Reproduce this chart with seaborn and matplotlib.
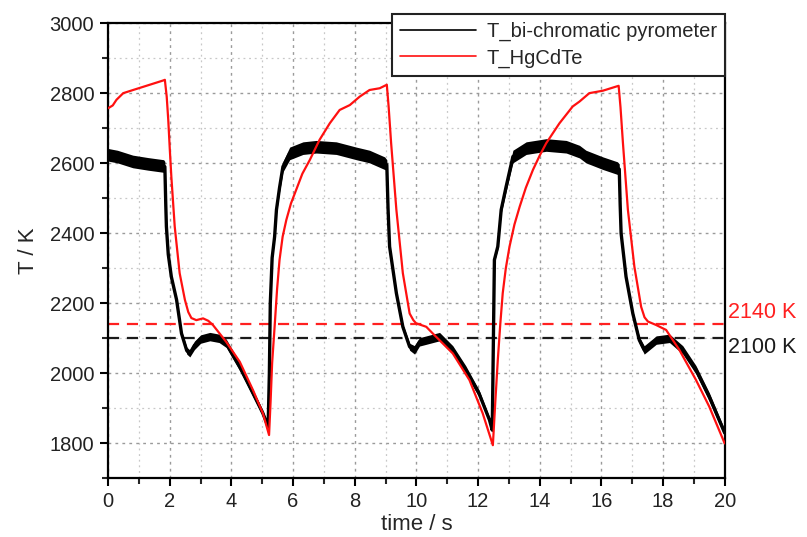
import matplotlib
matplotlib.use("Agg")
import matplotlib.pyplot as plt
from matplotlib.ticker import MultipleLocator
import numpy as np
import pandas as pd
import seaborn as sns

# bi-chromatic pyrometer (black): time, temperature, half-width of the noisy band
pyro_t = [0.0, 0.3, 0.8, 1.3, 1.8, 1.84,
          1.87, 1.89, 1.95, 2.05, 2.22, 2.38, 2.55, 2.65, 2.8, 3.0, 3.3, 3.6, 3.83, 4.27, 4.7, 5.02, 5.19,
          5.23, 5.26, 5.32, 5.4, 5.46, 5.56, 5.67, 5.89, 6.32, 6.75, 7.4, 8.05, 8.48, 8.97, 9.04,
          9.08, 9.13, 9.35, 9.56, 9.78, 9.94, 10.1, 10.32, 10.75, 11.18, 11.6, 12.03, 12.37, 12.46,
          12.53, 12.64, 12.75, 12.91, 13.13, 13.56, 14.21, 14.86, 15.29, 15.5, 16.05, 16.52, 16.58,
          16.61, 16.64, 16.8, 17.02, 17.23, 17.39, 17.78, 18.21, 18.64, 19.07, 19.5, 20.0]
pyro_T = [2624, 2619, 2605, 2598, 2592, 2590,
          2480, 2419, 2340, 2276, 2210, 2114, 2065, 2057, 2080, 2098, 2105, 2100, 2086, 2019, 1943, 1886, 1848,
          2000, 2200, 2330, 2390, 2467, 2530, 2590, 2628, 2643, 2647, 2643, 2628, 2619, 2600, 2595,
          2470, 2362, 2229, 2133, 2076, 2067, 2090, 2095, 2105, 2067, 2010, 1943, 1867, 1838,
          2324, 2362, 2467, 2533, 2619, 2643, 2652, 2647, 2633, 2619, 2600, 2586, 2583,
          2480, 2400, 2276, 2171, 2095, 2067, 2095, 2100, 2067, 2010, 1933, 1830]
pyro_noise = [18, 18, 18, 18, 18, 15,
              6, 6, 6, 6, 6, 8, 10, 10, 12, 12, 12, 12, 12, 12, 10, 8, 6,
              4, 4, 6, 8, 10, 12, 15, 18, 18, 18, 18, 18, 18, 18, 15,
              6, 6, 6, 8, 10, 12, 12, 12, 12, 12, 12, 10, 8, 6,
              6, 8, 10, 14, 18, 18, 18, 18, 18, 18, 18, 18, 15,
              6, 6, 6, 8, 10, 12, 12, 12, 12, 12, 12, 10]

# HgCdTe (red)
hg_t = [0.0, 0.15, 0.27, 0.49, 0.81, 1.35, 1.78, 1.84,
        1.9, 1.95, 2.0, 2.05, 2.16, 2.32, 2.49, 2.6, 2.7, 2.86, 3.08, 3.25, 3.4, 3.83, 4.27, 4.7, 5.02, 5.22,
        5.27, 5.32, 5.4, 5.48, 5.56, 5.66, 5.78, 5.93, 6.1, 6.3, 6.54, 6.86, 7.19, 7.51, 7.84, 8.16, 8.48, 8.81, 9.04,
        9.1, 9.18, 9.35, 9.56, 9.78, 9.9, 9.99, 10.32, 10.53, 11.18, 11.72, 12.15, 12.48,
        12.56, 12.64, 12.72, 12.8, 12.9, 13.02, 13.18, 13.35, 13.55, 13.78, 14.0, 14.21, 14.64, 15.07, 15.29,
        15.61, 16.05, 16.56,
        16.62, 16.7, 16.86, 17.07, 17.29, 17.4, 17.51, 17.78, 18.1, 18.53, 19.07, 19.5, 20.0]
hg_T = [2757, 2765, 2781, 2800, 2809, 2824, 2836, 2838,
        2790, 2724, 2640, 2562, 2419, 2286, 2210, 2175, 2158, 2152, 2157, 2150, 2138, 2090, 2033, 1952, 1886, 1824,
        1920, 2030, 2133, 2240, 2324, 2390, 2438, 2485, 2524, 2570, 2609, 2667, 2714, 2752, 2766, 2790, 2809, 2814, 2824,
        2760, 2657, 2467, 2286, 2171, 2152, 2143, 2133, 2114, 2057, 1981, 1886, 1795,
        1920, 2038, 2140, 2229, 2300, 2362, 2425, 2476, 2530, 2581, 2622, 2657, 2714, 2762, 2776,
        2800, 2807, 2821,
        2760, 2657, 2467, 2305, 2190, 2160, 2148, 2138, 2124, 2067, 1981, 1905, 1800]

levels = [2140, 2100]
level_colors = ["#ff2020", "#1a1a1a"]
level_labels = ["2140 K", "2100 K"]

sns.set_style("ticks")
plt.rcParams["font.family"] = ["Liberation Sans", "DejaVu Sans"]

fig = plt.figure(figsize=(8.07, 5.37), dpi=100)
ax = fig.add_axes([0.134, 0.109, 0.764, 0.848])

for lv, c in zip(levels, level_colors):
    ax.axhline(lv, color=c, lw=1.6, ls=(0, (5, 3.5)), zorder=1)

pyro = pd.DataFrame({"t": pyro_t, "T": pyro_T})
hg = pd.DataFrame({"t": hg_t, "T": hg_T})

lo = np.array(pyro_T) - np.array(pyro_noise)
hi = np.array(pyro_T) + np.array(pyro_noise)
ax.fill_between(pyro_t, lo, hi, color="black", lw=0, zorder=2)
sns.lineplot(data=pyro, x="t", y="T", color="black", lw=2.4, estimator=None,
             ax=ax, label="T_bi-chromatic pyrometer", zorder=3)
sns.lineplot(data=hg, x="t", y="T", color="#ff1010", lw=1.6, estimator=None,
             ax=ax, label="T_HgCdTe", zorder=4)

ax.set_xlim(0, 20)
ax.set_ylim(1700, 3000)
ax.xaxis.set_major_locator(MultipleLocator(2))
ax.xaxis.set_minor_locator(MultipleLocator(1))
ax.yaxis.set_major_locator(MultipleLocator(200))
ax.yaxis.set_minor_locator(MultipleLocator(100))

ax.grid(which="major", color="#9a9a9a", ls=(0, (2, 3)), lw=1.0)
ax.grid(which="minor", color="#c8c8c8", ls=(0, (1.5, 3)), lw=0.9)
ax.set_axisbelow(True)

for s in ax.spines.values():
    s.set_linewidth(1.6)
    s.set_color("black")
ax.tick_params(which="major", direction="out", length=6, width=1.5, labelsize=14.5,
               colors="black", pad=4)
ax.tick_params(which="minor", direction="out", length=4, width=1.5)
for lab in ax.get_xticklabels() + ax.get_yticklabels():
    lab.set_color("#222222")

ax.set_xlabel("time / s", fontsize=16, labelpad=2)
ax.set_ylabel("T / K", fontsize=16, labelpad=8)

for lv, c, txt, dy in zip(levels, level_colors, level_labels, [35, -25]):
    ax.text(1.005, lv + dy, txt, color=c, fontsize=15.5, va="center", ha="left",
            transform=ax.get_yaxis_transform(), clip_on=False)

leg = ax.legend(loc="upper right", bbox_to_anchor=(1.0, 1.02), fontsize=14.5,
                frameon=True, fancybox=False, handlelength=3.8, borderpad=0.4,
                labelspacing=0.35, borderaxespad=0, handletextpad=0.5)
leg.get_frame().set_edgecolor("#222222")
leg.get_frame().set_linewidth(1.5)
leg.get_frame().set_alpha(1)
for h in leg.get_lines():
    h.set_linewidth(1.2)

fig.savefig("out.png", dpi=100)
